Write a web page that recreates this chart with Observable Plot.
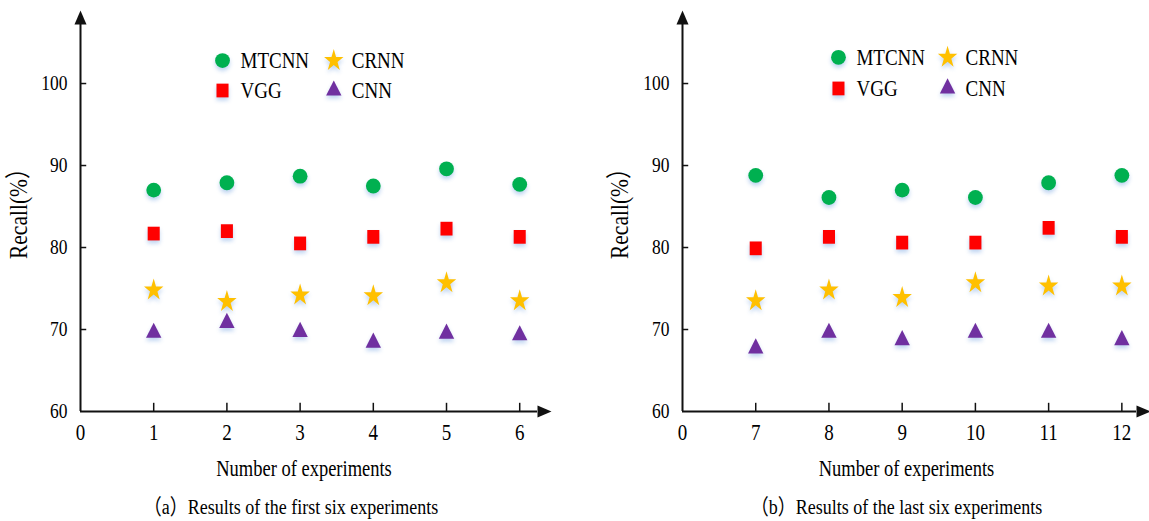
<!DOCTYPE html>
<html>
<head>
<meta charset="utf-8">
<script src="https://cdn.jsdelivr.net/npm/d3@7"></script>
<script src="https://cdn.jsdelivr.net/npm/@observablehq/plot@0.6"></script>
<style>
  html, body { margin: 0; padding: 0; background: #fff; }
  #wrap { display: flex; width: 1149px; height: 521px; overflow: hidden; }
  #wrap svg, #wrap svg text { font-family: 'Liberation Serif', 'Times New Roman', 'Noto Sans CJK SC', serif !important; }
  g[aria-description="marker"] { filter: drop-shadow(0px 3px 2px rgba(110,160,225,0.45)); }
</style>
</head>
<body>
<div id="wrap"></div>
<script>
// ---- data ----
const seriesNames = ["MTCNN", "VGG", "CRNN", "CNN"];
const seriesColors = ["#00B050", "#FF0000", "#FFC000", "#7030A0"];
const seriesSymbols = ["circle", "square", "star", "triangle"];
const seriesR = [7.4, 6.8, 6.1, 5.7];

const experimentsA = [1, 2, 3, 4, 5, 6];
const mtcnnA = [87.0, 87.9, 88.7, 87.5, 89.6, 87.7];
const vggA   = [81.7, 82.0, 80.5, 81.3, 82.3, 81.3];
const crnnA  = [74.8, 73.4, 74.2, 74.1, 75.7, 73.5];
const cnnA   = [69.6, 70.8, 69.7, 68.4, 69.5, 69.3];

const experimentsB = [7, 8, 9, 10, 11, 12];
const mtcnnB = [88.8, 86.1, 87.0, 86.1, 87.9, 88.8];
const vggB   = [79.9, 81.3, 80.6, 80.6, 82.4, 81.3];
const crnnB  = [73.5, 74.8, 73.9, 75.7, 75.3, 75.3];
const cnnB   = [67.7, 69.6, 68.7, 69.6, 69.6, 68.7];

const xTickLabelsA = ["0", "1", "2", "3", "4", "5", "6"];
const xTickLabelsB = ["0", "7", "8", "9", "10", "11", "12"];
const yTicks = [60, 70, 80, 90, 100];

const legendCol = [0, 0, 1, 1];
const legendRow = [0, 1, 0, 1];

const fontFamily = "'Liberation Serif', 'Times New Roman', 'Noto Sans CJK SC', serif";
const textStretch = 1.2;   // reference glyphs are vertically stretched
const markerStretch = 1.14;

// arrowhead symbol (pointing up, base centered at origin)
const arrowHead = {
  draw(ctx) { ctx.moveTo(0, -14); ctx.lineTo(6, 0); ctx.lineTo(-6, 0); ctx.closePath(); }
};

function panel(cfg) {
  const series = [cfg.mtcnn, cfg.vgg, cfg.crnn, cfg.cnn];
  const yMax = 107.2;
  const marks = [];
  marks.push(Plot.ruleX([0], {y1: 60, y2: yMax, stroke: "#111", strokeWidth: 2}));
  marks.push(Plot.ruleY([60], {x1: 0, x2: cfg.xMax, stroke: "#111", strokeWidth: 2}));
  marks.push(Plot.dot([0], {x: 0, y: yMax, symbol: arrowHead, r: 1, fill: "#111", stroke: "none"}));
  marks.push(Plot.dot([0], {x: cfg.xMax, y: 60, symbol: arrowHead, r: 1, fill: "#111", stroke: "none", rotate: 90}));
  marks.push(Plot.ruleY(yTicks.slice(1), {x1: 0, x2: 0.085, stroke: "#111", strokeWidth: 1.5}));
  marks.push(Plot.ruleX(cfg.experiments.map((d, i) => i + 1), {y1: 60, y2: 61, stroke: "#111", strokeWidth: 1.5}));
  marks.push(Plot.axisX({ticks: d3.range(cfg.labels.length), tickFormat: i => cfg.labels[i], tickSize: 0, tickPadding: 12, label: null, fontSize: 19, fontFamily}));
  marks.push(Plot.axisY({ticks: yTicks, tickSize: 0, tickPadding: 13, label: null, fontSize: 17.5, fontFamily}));
  series.forEach((vals, s) => {
    marks.push(Plot.dot(vals, {
      x: (d, i) => i + 1, y: d => d,
      symbol: seriesSymbols[s], r: seriesR[s], fill: seriesColors[s], stroke: "none",
      ariaDescription: "marker"
    }));
  });
  seriesNames.forEach((name, s) => {
    const lx = cfg.legendX[legendCol[s]], ly = cfg.legendY[legendRow[s]];
    marks.push(Plot.dot([name], {x: () => lx, y: () => ly, symbol: seriesSymbols[s], r: seriesR[s], fill: seriesColors[s], stroke: "none", ariaDescription: "marker"}));
    marks.push(Plot.text([name], {x: () => lx, y: () => ly, text: d => d, dx: 18, textAnchor: "start", fontSize: 19, fill: "#000", fontFamily}));
  });
  marks.push(Plot.text(["Recall(%）"], {frameAnchor: "left", text: d => d, rotate: -90, dx: cfg.yLabelDx, dy: 41, fontSize: 21.5, fill: "#000", fontFamily}));
  marks.push(Plot.text(["Number of experiments"], {frameAnchor: "bottom", text: d => d, dx: cfg.titleDx, dy: 57, lineAnchor: "middle", fontSize: 18.5, fill: "#000", fontFamily}));
  marks.push(Plot.text([cfg.caption], {frameAnchor: "bottom", text: d => d, dx: cfg.capDx, dy: 96, lineAnchor: "middle", fontSize: 18, fill: "#000", fontFamily}));

  const svg = Plot.plot({
    width: cfg.width, height: 521,
    marginLeft: cfg.marginLeft, marginRight: cfg.marginRight, marginTop: 24, marginBottom: 110,
    x: {domain: [0, cfg.xMax], axis: null},
    y: {domain: [60, yMax], axis: null},
    style: {fontFamily, fontSize: "17px", color: "#000", background: "#fff", overflow: "visible"},
    marks
  });
  svg.querySelectorAll("text").forEach(t => {
    const tr = t.getAttribute("transform");
    if (tr) t.setAttribute("transform", tr + ` scale(1,${textStretch})`);
    else {
      const x = +t.getAttribute("x") || 0, y = +t.getAttribute("y") || 0;
      t.setAttribute("transform", `translate(${x},${y}) scale(1,${textStretch}) translate(${-x},${-y})`);
    }
  });
  svg.querySelectorAll('g[aria-description="marker"] path').forEach(p => {
    const tr = p.getAttribute("transform") || "";
    p.setAttribute("transform", tr + ` scale(1,${markerStretch})`);
  });
  return svg;
}

const wrap = document.getElementById("wrap");
wrap.appendChild(panel({
  width: 575, marginLeft: 80, marginRight: 38, xMax: 6.243,
  experiments: experimentsA, labels: xTickLabelsA,
  mtcnn: mtcnnA, vgg: vggA, crnn: crnnA, cnn: cnnA,
  legendX: [1.94, 3.46], legendY: [102.8, 99.15],
  yLabelDx: -62, titleDx: -5, capDx: -18,
  caption: "（a）Results of the first six experiments"
}));
wrap.appendChild(panel({
  width: 574, marginLeft: 107, marginRight: 13, xMax: 6.2,
  experiments: experimentsB, labels: xTickLabelsB,
  mtcnn: mtcnnB, vgg: vggB, crnn: crnnB, cnn: cnnB,
  legendX: [2.13, 3.62], legendY: [103.2, 99.4],
  yLabelDx: -63, titleDx: -3, capDx: -13,
  caption: "（b）Results of the last six experiments"
}));
</script>
</body>
</html>
